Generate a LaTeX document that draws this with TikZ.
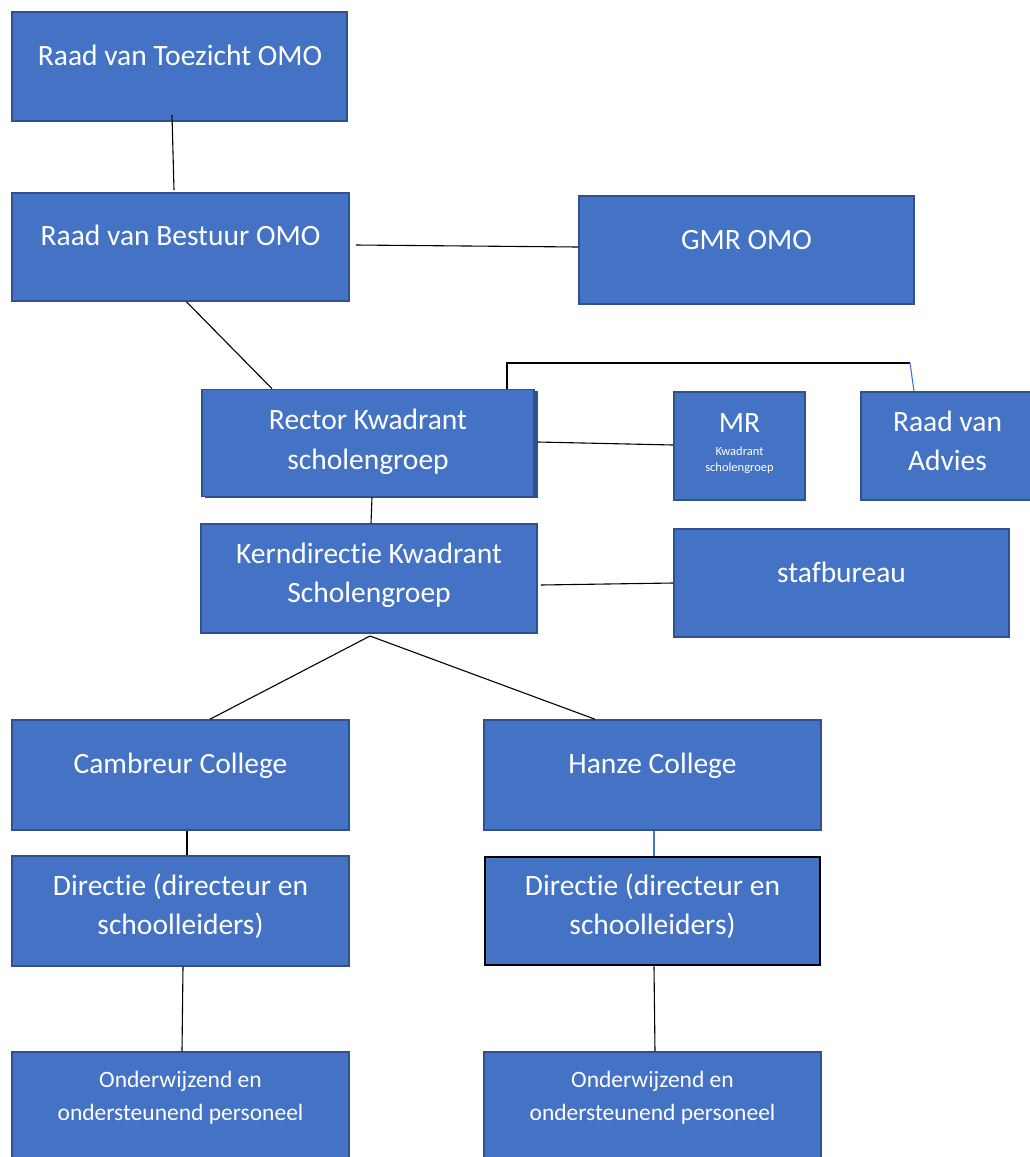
\documentclass[tikz,border=0pt]{standalone}
\usepackage{fontspec}
\setmainfont{Carlito}[Ligatures={NoCommon,NoContextual}]
\definecolor{boxfill}{HTML}{4472C4}
\definecolor{boxline}{HTML}{2F528F}
\tikzset{
  orgbox/.style={draw=boxline, line width=1.6pt, fill=boxfill, rectangle, inner sep=0pt},
  bigtxt/.style={text=white, align=center, anchor=base, inner sep=0pt, font=\fontsize{29.5}{39.5}\selectfont},
  midtxt/.style={text=white, align=center, anchor=base, inner sep=0pt, font=\fontsize{23.5}{32.5}\selectfont},
  smalltxt/.style={text=white, align=center, anchor=base, inner sep=0pt, font=\fontsize{12.5}{16.5}\selectfont},
  link/.style={draw=black, line width=1.1pt},
  bluelink/.style={draw=boxfill, line width=1.1pt}
}
\begin{document}
\begin{tikzpicture}[x=1pt,y=-1pt]
\useasboundingbox (0,0) rectangle (1030,1157);
\clip (0,0) rectangle (1030,1157);
\fill[white] (0,0) rectangle (1030,1157);

% boxes
\node[orgbox, minimum width=335, minimum height=109] (toez) at (179.5,66.5) {};
\node[orgbox, minimum width=337, minimum height=108] (best) at (180.5,247) {};
\node[orgbox, minimum width=335, minimum height=108] (gmr) at (746.5,250) {};
\fill[boxline] (205,391) rectangle (537.5,498);
\node[orgbox, minimum width=332, minimum height=107] (rect) at (368,443) {};
\node[orgbox, minimum width=131, minimum height=108] (mr) at (739.5,446) {};
\node[orgbox, minimum width=173, minimum height=108] (adv) at (947.5,446) {};
\node[orgbox, minimum width=336, minimum height=109] (kern) at (369,578.5) {};
\node[orgbox, minimum width=335, minimum height=108] (staf) at (841.5,583) {};
\node[orgbox, minimum width=337, minimum height=110] (camb) at (180.5,775) {};
\node[orgbox, minimum width=337, minimum height=110] (hanz) at (652.5,775) {};
\node[orgbox, minimum width=337, minimum height=110] (dirl) at (180.5,911) {};
\node[orgbox, draw=black, line width=2.8pt, minimum width=335, minimum height=108] (dirr) at (652.5,911) {};
\node[orgbox, minimum width=337, minimum height=112] (ondl) at (180.5,1108) {};
\node[orgbox, minimum width=337, minimum height=112] (ondr) at (652.5,1108) {};

% texts (anchor=base is the baseline of the last line)
\node[bigtxt] (toez-t) at (180,65) {Raad van Toezicht OMO};
\node[bigtxt] (best-t) at (180.5,245) {Raad van Bestuur OMO};
\node[bigtxt] (gmr-t) at (746.5,249) {GMR OMO};
\node[bigtxt] (rect-t) at (368,469) {Rector Kwadrant\\scholengroep};
\node[bigtxt] (mr-t) at (739.5,432) {MR};
\node[smalltxt] (mr-s) at (739.5,471.5) {Kwadrant\\scholengroep};
\node[bigtxt] (adv-t) at (947.5,470.5) {Raad van\\Advies};
\node[bigtxt] (kern-t) at (369,602.5) {Kerndirectie Kwadrant\\Scholengroep};
\node[bigtxt] (staf-t) at (841.5,582) {stafbureau};
\node[bigtxt] (camb-t) at (180.5,773) {Cambreur College};
\node[bigtxt] (hanz-t) at (652.5,773) {Hanze College};
\node[bigtxt] (dirl-t) at (180.5,934.5) {Directie (directeur en\\schoolleiders)};
\node[bigtxt] (dirr-t) at (652.5,934.5) {Directie (directeur en\\schoolleiders)};
\node[midtxt] (ondl-t) at (180.5,1120) {Onderwijzend en\\ondersteunend personeel};
\node[midtxt] (ondr-t) at (652.5,1120) {Onderwijzend en\\ondersteunend personeel};

% connectors
\draw[link] ([xshift=-7.5,yshift=7]toez.south) -- ([xshift=-6.5,yshift=2]best.north);
\draw[link] ([xshift=6,yshift=2]best.east) -- ([yshift=3]gmr.west);
\draw[link] ([xshift=6]best.south) -- ([xshift=-96]rect.north);
\coordinate (brL) at (507,363);
\coordinate (brR) at (910,363);
\draw[link] ([xshift=139]rect.north) -- (brL) -- (brR);
\draw[bluelink] (brR) -- ([xshift=-33.5]adv.north);
\draw[link] ([xshift=3,yshift=1]rect.east) -- ([yshift=1]mr.west);
\draw[link] ([xshift=4]rect.south) -- ([xshift=2]kern.north);
\draw[link] ([xshift=3,yshift=-6.5]kern.east) -- (staf.west);
\coordinate (kfork) at (370,636);
\draw[link] (kfork) -- ([xshift=29.5]camb.north);
\draw[link] (kfork) -- ([xshift=-57.5]hanz.north);
\draw[link] ([xshift=6.5]camb.south) -- ([xshift=6.5]dirl.north);
\draw[bluelink] ([xshift=1.5]hanz.south) -- ([xshift=1.5]dirr.north);
\draw[link] ([xshift=2.5]dirl.south) -- ([xshift=1.5]ondl.north);
\draw[link] ([xshift=1.5]dirr.south) -- ([xshift=2.5]ondr.north);
\end{tikzpicture}
\end{document}
